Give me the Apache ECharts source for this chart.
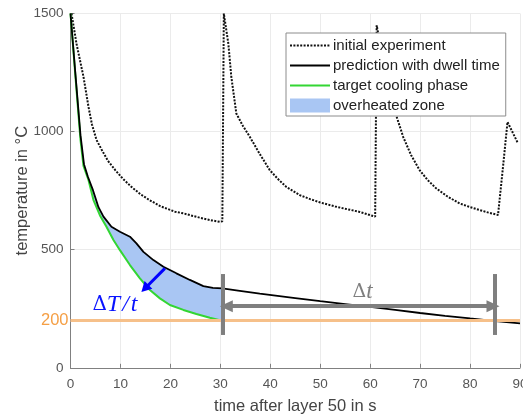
<!DOCTYPE html>
<html>
<head>
<meta charset="utf-8">
<script src="https://cdn.jsdelivr.net/npm/echarts@6/dist/echarts.min.js"></script>
<style>
html,body{margin:0;padding:0;background:#fff;}
#c{width:523px;height:415px;}
</style>
</head>
<body>
<div id="c"></div>
<script>
// ---------- data ----------
const xTickValues = [0, 10, 20, 30, 40, 50, 60, 70, 80, 90];
const yTickValues = [0, 500, 1000, 1500];

const seriesNames = ['initial experiment', 'prediction with dwell time', 'target cooling phase', 'overheated zone'];

// initial experiment (dotted)
const initX = [0.2, 1.2, 2.6, 3.6, 4.3, 5.2, 6.3, 7.5, 9.0, 10.5, 12.2, 14.0, 15.9, 18.0, 20.9, 22.6, 24.5, 26.6, 28.3, 29.9, 30.4,
               30.7, 31.6, 32.2, 33.2, 34.5, 35.9, 37.9, 39.9, 41.5, 43.2, 45.9, 48.0, 50.0, 53.0, 55.5, 57.9, 61.0,
               61.3, 62.5, 64.0, 65.2, 66.6, 68.2, 69.9, 71.5, 73.2, 75.5, 77.9, 79.9, 81.9, 83.7, 85.6,
               85.9, 86.6, 87.5, 89.6];
const initY = [1500, 1372, 1232, 1105, 1030, 965, 921, 876, 836, 800, 766, 735, 709, 684, 661, 654, 643, 632, 624, 618, 620,
               1500, 1373, 1232, 1077, 1025, 978, 905, 837, 800, 766, 731, 714, 700, 683, 671, 660, 640,
               1450, 1320, 1180, 1070, 978, 900, 837, 795, 760, 725, 696, 681, 668, 657, 647,
               655, 851, 1041, 950];

// prediction with dwell time (solid black)
const predX = [0, 1.0, 2.0, 2.7, 3.5, 4.5, 5.6, 6.6, 8.2, 9.9, 11.9, 13.2, 14.6, 16.6, 18.6, 21.2, 23.9, 26.6, 28.5, 30.4,
               33.9, 37.9, 45, 50, 55, 60, 65, 70, 75, 80, 84.6, 90];
const predY = [1500, 1240, 985, 862, 808, 752, 680, 640, 597, 576, 555, 527, 491, 456, 428, 400, 372, 346, 338, 336,
               326, 314, 295, 282, 270, 258, 245, 232, 220, 209, 199, 188];

// target cooling phase (green)
const targetX = [0, 1.0, 2.0, 2.6, 3.6, 4.6, 5.9, 7.2, 8.6, 9.9, 11.9, 13.9, 15.9, 17.9, 19.9, 22.6, 25.2, 27.9, 30.3];
const targetY = [1500, 1230, 965, 855, 795, 710, 645, 597, 541, 498, 435, 379, 329, 294, 266, 245, 228, 212, 199];

// annotations (data space)
const threshold = 200;
const zoneEndX = 30.4;
const dwellStartX = 30.4, dwellEndX = 85.0;
const barLow = 139, barHigh = 397;
const arrowY = 261;
const arrowFromX = 31.2, arrowToX = 84.6;
const slopeArrowFrom = [18.9, 421], slopeArrowTo = [14.9, 336];
const slopeLabelAt = [8.9, 268];
const dtLabelAt = [58.5, 321];

// ---------- styles ----------
const zoneColor = '#a9c6f3';
const gray = '#7f7f7f';
const axisColor = '#808080';
const labelColor = '#555555';

const zip = (xs, ys) => xs.map((x, i) => [x, ys[i]]);

const chart = echarts.init(document.getElementById('c'), null, {renderer: 'canvas'});

const option = {
  animation: false,
  backgroundColor: '#ffffff',
  textStyle: {fontFamily: 'Liberation Sans, Arial, sans-serif'},
  grid: {left: 70.5, right: 3, top: 13.5, bottom: 47.2, containLabel: false, outerBoundsMode: 'none'},
  legend: {
    orient: 'vertical',
    left: 286, top: 33,
    itemWidth: 40, itemHeight: 14, itemGap: 5,
    padding: [5, 6, 3, 3],
    borderColor: '#8c8c8c', borderWidth: 1, backgroundColor: '#ffffff',
    textStyle: {fontSize: 15, color: '#222222', fontFamily: 'Liberation Sans, Arial, sans-serif', padding: [0, 0, 0, -2]},
    data: [
      {name: seriesNames[0], itemStyle: {opacity: 0}},
      {name: seriesNames[1], itemStyle: {opacity: 0}},
      {name: seriesNames[2], itemStyle: {opacity: 0}},
      {name: seriesNames[3], icon: 'rect'}
    ],
    selectedMode: false
  },
  xAxis: {
    type: 'value', min: xTickValues[0], max: xTickValues[xTickValues.length - 1], interval: 10,
    name: 'time after layer 50 in s', nameLocation: 'middle', nameGap: 30, nameMoveOverlap: false,
    nameTextStyle: {fontSize: 16.5, color: '#444444'},
    axisLine: {show: true, lineStyle: {color: axisColor, width: 1}},
    axisTick: {show: true, inside: true, length: 4, lineStyle: {color: axisColor}},
    axisLabel: {color: labelColor, fontSize: 13.5, margin: 9},
    splitLine: {show: true, lineStyle: {color: '#ebebeb', width: 1}}
  },
  yAxis: {
    type: 'value', min: yTickValues[0], max: yTickValues[yTickValues.length - 1], interval: 500,
    name: 'temperature in °C', nameLocation: 'middle', nameGap: 40, nameMoveOverlap: false,
    nameTextStyle: {fontSize: 16.5, color: '#444444'},
    axisLine: {show: true, lineStyle: {color: axisColor, width: 1}},
    axisTick: {show: true, inside: true, length: 4, lineStyle: {color: axisColor}},
    axisLabel: {color: labelColor, fontSize: 13.5, margin: 7, formatter: (v) => String(v)},
    splitLine: {show: true, lineStyle: {color: '#ebebeb', width: 1}}
  },
  series: [
    {
      name: seriesNames[3],
      type: 'custom',
      z: 1,
      itemStyle: {color: zoneColor},
      data: [[0, 0]],
      silent: true,
      renderItem: function (params, api) {
        const pts = [];
        for (let i = 0; i < predX.length; i++) {
          if (predX[i] <= zoneEndX) pts.push(api.coord([predX[i], predY[i]]));
        }
        for (let i = targetX.length - 1; i >= 0; i--) {
          pts.push(api.coord([targetX[i], targetY[i]]));
        }
        return {type: 'polygon', shape: {points: pts}, style: {fill: zoneColor}};
      },
      markLine: {
        silent: true, symbol: ['none', 'none'],
        label: {show: true, position: 'start', formatter: String(threshold), color: '#f59f45', fontSize: 16.5, distance: 2},
        lineStyle: {color: '#f6c08a', width: 3, type: 'solid'},
        data: [{yAxis: threshold}]
      }
    },
    {
      name: seriesNames[0],
      type: 'line', z: 3, symbol: 'none', showSymbol: false,
      data: zip(initX, initY),
      lineStyle: {color: '#111111', width: 2, type: [2, 1.4]},
      itemStyle: {color: '#111111'}
    },
    {
      name: seriesNames[2],
      type: 'line', z: 3, symbol: 'none', showSymbol: false,
      data: zip(targetX, targetY),
      lineStyle: {color: '#33d633', width: 2},
      itemStyle: {color: '#33d633'}
    },
    {
      name: seriesNames[1],
      type: 'line', z: 4, symbol: 'none', showSymbol: false,
      data: zip(predX, predY),
      lineStyle: {color: '#000000', width: 1.8},
      itemStyle: {color: '#000000'},
      markLine: {
        silent: true, symbol: ['none', 'none'],
        label: {show: false},
        data: [
          [{coord: [dwellStartX, barLow], lineStyle: {color: gray, width: 4, type: 'solid'}}, {coord: [dwellStartX, barHigh]}],
          [{coord: [dwellEndX, barLow], lineStyle: {color: gray, width: 4, type: 'solid'}}, {coord: [dwellEndX, barHigh]}],
          [{coord: [arrowFromX, arrowY], symbol: 'triangle', symbolSize: [12, 13], lineStyle: {color: gray, width: 4, type: 'solid'}, itemStyle: {color: gray}},
           {coord: [arrowToX, arrowY], symbol: 'triangle', symbolSize: [12, 13], itemStyle: {color: gray}}],
          [{coord: slopeArrowFrom, symbol: 'none', lineStyle: {color: '#0000ff', width: 3, type: 'solid'}, itemStyle: {color: '#0000ff'}},
           {coord: slopeArrowTo, symbol: 'triangle', symbolSize: [11, 10], itemStyle: {color: '#0000ff'}}]
        ]
      },
      markPoint: {
        silent: true, symbol: 'rect', symbolSize: 1,
        itemStyle: {color: 'rgba(0,0,0,0)'},
        data: [
          {coord: slopeLabelAt, label: {show: true, position: 'inside',
            formatter: '{a|Δ}{b|T}{c|/}{b|t}',
            rich: {
              a: {fontFamily: 'DejaVu Serif', fontSize: 20, color: '#0a14ff'},
              b: {fontFamily: 'Liberation Serif', fontStyle: 'italic', fontSize: 24, color: '#0a14ff'},
              c: {fontFamily: 'Liberation Serif', fontStyle: 'italic', fontSize: 24, color: '#0a14ff', padding: [0, 2, 0, 2]}
            }}},
          {coord: dtLabelAt, label: {show: true, position: 'inside',
            formatter: '{a|Δ}{b|t}',
            rich: {
              a: {fontFamily: 'DejaVu Serif', fontSize: 19, color: gray},
              b: {fontFamily: 'Liberation Serif', fontStyle: 'italic', fontSize: 23, color: gray}
            }}}
        ]
      }
    }
  ]
};
chart.setOption(option);
</script>
</body>
</html>
